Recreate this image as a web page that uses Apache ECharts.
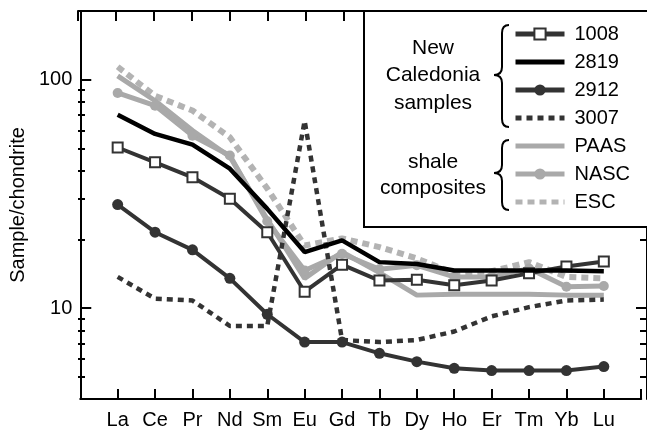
<!DOCTYPE html>
<html>
<head>
<meta charset="utf-8">
<script src="https://cdn.jsdelivr.net/npm/echarts@6/dist/echarts.min.js"></script>
<style>
html,body{margin:0;padding:0;background:#fff;}
#c{width:647px;height:431px;}
</style>
</head>
<body>
<div id="c"></div>
<script>
var categories = ['La','Ce','Pr','Nd','Sm','Eu','Gd','Tb','Dy','Ho','Er','Tm','Yb','Lu'];
var s1008 = [50.5, 43.5, 37.4, 30.1, 21.5, 11.8, 15.5, 13.2, 13.3, 12.6, 13.2, 14.2, 15.2, 16.0];
var s2819 = [70.3, 57.9, 52.0, 40.8, 27.2, 17.6, 19.8, 15.9, 15.6, 14.6, 14.6, 14.6, 14.6, 14.5];
var s2912 = [28.4, 21.5, 18.0, 13.5, 9.4, 7.1, 7.1, 6.34, 5.83, 5.45, 5.33, 5.33, 5.33, 5.55];
var s3007 = [13.7, 11.0, 10.8, 8.35, 8.35, 66.0, 7.25, 7.1, 7.25, 7.9, 9.2, 10.1, 10.8, 10.9];
var sPAAS = [104, 80.9, 59.9, 46.0, 24.5, 13.5, 17.6, 14.3, 11.4, 11.5, 11.5, 11.5, 11.4, 11.4];
var sNASC = [87.5, 77.0, 56.9, 46.6, 24.0, 14.6, 17.3, 14.8, 15.4, 13.7, 13.7, 14.9, 12.4, 12.5];
var sESC  = [114, 85.0, 73.3, 56.0, 33.4, 18.8, 20.2, 18.5, 16.5, 14.2, 14.5, 15.9, 13.7, 13.5];
var yMajorTicks = [10, 100];
var yMinorTicks = [5, 6, 7, 8, 9, 20, 30, 40, 50, 60, 70, 80, 90];

var axisData = [''].concat(categories).concat([' ']);
function pad(a){ return [null].concat(a).concat([null]); }

var FONT = 'Liberation Sans, Arial, sans-serif';
var DARK = '#333333';
var GRAY = '#a9a9a9';

var chart = echarts.init(document.getElementById('c'), null, {renderer:'canvas'});

var gridRect = {left:78, top:11, right:-3, bottom:32, containLabel:false};
var grids = [0,1,2,3].map(function(){ return echarts.util.clone(gridRect); });

function xAx(g, pos, show, labels){
  return {
    type:'category', data:axisData, boundaryGap:false, position:pos, gridIndex:g, show:show,
    axisLine:{show:true, onZero:false, lineStyle:{color:'#000', width:2}},
    axisTick:{show:true, inside:true, length:10, interval:0, lineStyle:{color:'#000', width:2}},
    axisLabel:{show:labels, interval:0, color:'#000', fontSize:20, fontFamily:FONT, margin:11},
    splitLine:{show:false}
  };
}
function yAx(g, pos, major, labels){
  return {
    type:'log', logBase:10, min:4, max:200, position:pos, gridIndex:g,
    name: labels ? 'Sample/chondrite' : '',
    nameLocation:'middle', nameRotate:90, nameGap:44,
    nameTextStyle:{color:'#000', fontSize:20, fontFamily:FONT},
    axisLine:{show:major, onZero:false, lineStyle:{color:'#000', width:2}},
    axisTick:{show:true, inside:true, length: major?11:7,
      customValues: major ? yMajorTicks : yMinorTicks,
      lineStyle:{color:'#000', width:2}},
    axisLabel:{show: labels, color:'#000', fontSize:20, fontFamily:FONT, margin:8,
      customValues: yMajorTicks,
      formatter:function(v){return String(Math.round(v));}},
    splitLine:{show:false}
  };
}

function brace(x, yTop, yMid, yBot){
  var xv = x, xt = x + 7, xp = x - 8, r = 8;
  var st = {stroke:'#000', lineWidth:2, fill:null};
  return [
    {type:'bezierCurve', z:101, shape:{x1:xt, y1:yTop, x2:xv, y2:yTop+r, cpx1:xv, cpy1:yTop}, style:st},
    {type:'line', z:101, shape:{x1:xv, y1:yTop+r, x2:xv, y2:yMid-r}, style:st},
    {type:'bezierCurve', z:101, shape:{x1:xv, y1:yMid-r, x2:xp, y2:yMid, cpx1:xv, cpy1:yMid}, style:st},
    {type:'bezierCurve', z:101, shape:{x1:xp, y1:yMid, x2:xv, y2:yMid+r, cpx1:xv, cpy1:yMid}, style:st},
    {type:'line', z:101, shape:{x1:xv, y1:yMid+r, x2:xv, y2:yBot-r}, style:st},
    {type:'bezierCurve', z:101, shape:{x1:xv, y1:yBot-r, x2:xt, y2:yBot, cpx1:xv, cpy1:yBot}, style:st}
  ];
}
function label(t, y){
  return {type:'text', z:101, x:433, y:y, style:{text:t, font:'21px '+FONT, fill:'#000', textAlign:'center', textVerticalAlign:'middle'}};
}

var graphics = [
  {type:'rect', z:100, shape:{x:364, y:11, width:290, height:216},
    style:{fill:'#fff', stroke:'#000', lineWidth:2}},
  label('New', 48), label('Caledonia', 75), label('samples', 103),
  label('shale', 162), label('composites', 188)
].concat(brace(502, 25, 75, 127)).concat(brace(502, 140, 173, 210));

var hideSym = {opacity:0};
var option = {
  animation:false,
  backgroundColor:'#fff',
  grid:grids,
  xAxis:[xAx(0,'bottom',true,true), xAx(1,'top',true,false), xAx(2,'bottom',false,false), xAx(3,'top',false,false)],
  yAxis:[yAx(0,'left',true,true), yAx(1,'right',true,false), yAx(2,'left',false,false), yAx(3,'right',false,false)],
  legend:{
    orient:'vertical', left:513, top:24, padding:0, itemWidth:49, itemHeight:14, itemGap:8,
    lineStyle:{width:5},
    data:[
      {name:'1008'},
      {name:'2819', itemStyle:hideSym},
      {name:'2912'},
      {name:'3007', itemStyle:hideSym},
      {name:'PAAS', itemStyle:hideSym},
      {name:'NASC'},
      {name:'ESC', itemStyle:hideSym}
    ],
    textStyle:{color:'#000', fontSize:20, fontFamily:FONT, lineHeight:20, padding:[0,0,0,5]},
    selectedMode:false, z:110
  },
  series:[
    {name:'ESC', type:'line', data:pad(sESC), z:2, symbol:'none',
      lineStyle:{color:'#b3b3b3', width:6, type:[7,5]}, itemStyle:{color:'#b3b3b3'}},
    {name:'PAAS', type:'line', data:pad(sPAAS), z:3, symbol:'none',
      lineStyle:{color:GRAY, width:5}, itemStyle:{color:GRAY}},
    {name:'NASC', type:'line', data:pad(sNASC), z:4, symbol:'circle', symbolSize:10,
      lineStyle:{color:GRAY, width:5}, itemStyle:{color:GRAY}},
    {name:'3007', type:'line', data:pad(s3007), z:5, symbol:'none',
      lineStyle:{color:DARK, width:4.5, type:[6,5]}, itemStyle:{color:DARK}},
    {name:'2912', type:'line', data:pad(s2912), z:6, symbol:'circle', symbolSize:11,
      lineStyle:{color:DARK, width:4}, itemStyle:{color:DARK}},
    {name:'1008', type:'line', data:pad(s1008), z:7, symbol:'rect', symbolSize:10,
      lineStyle:{color:DARK, width:4}, itemStyle:{color:'#fff', borderColor:DARK, borderWidth:2}},
    {name:'2819', type:'line', data:pad(s2819), z:8, symbol:'none',
      lineStyle:{color:'#000', width:4.5}, itemStyle:{color:'#000'}}
  ],
  graphic:graphics
};
chart.setOption(option);
</script>
</body>
</html>
